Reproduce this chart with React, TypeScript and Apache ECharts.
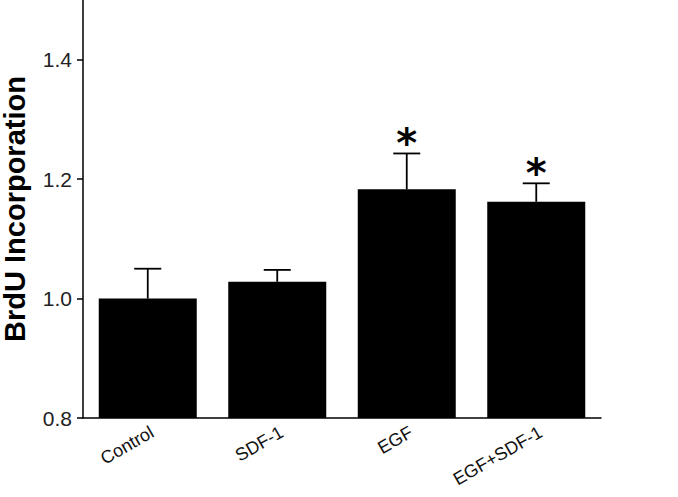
import React, { useEffect, useRef } from "react";
import * as echarts from "echarts";

const categories = ["Control", "SDF-1", "EGF", "EGF+SDF-1"];
const means = [1.0, 1.028, 1.183, 1.162];
const errors = [0.05, 0.02, 0.06, 0.031];
const significant = [false, false, true, true];
const yTicks = [0.8, 1.0, 1.2, 1.4];

export default function App() {
  const ref = useRef<HTMLDivElement>(null);
  useEffect(() => {
    document.body.style.margin = "0";
    const chart = echarts.init(ref.current!, null, { renderer: "svg" });
    const font = "Liberation Sans, Arial, sans-serif";
    chart.setOption({
      animation: false,
      backgroundColor: "#ffffff",
      grid: { left: 83, right: 77, top: 0, bottom: 79, containLabel: false, outerBoundsMode: "none" },
      xAxis: {
        type: "category",
        data: categories,
        axisLine: { lineStyle: { color: "#000", width: 1.5 } },
        axisTick: { alignWithLabel: true, length: 5, lineStyle: { color: "#000", width: 1.5 } },
        axisLabel: {
          rotate: 30,
          fontSize: 18,
          color: "#111",
          fontFamily: font,
          margin: 5,
          verticalAlign: "top",
        },
      },
      yAxis: {
        type: "value",
        min: 0.8,
        max: 1.5,
        interval: 0.1,
        splitLine: { show: false },
        axisLine: { show: true, lineStyle: { color: "#000", width: 1.5 } },
        axisTick: { show: true, length: 6, customValues: yTicks, lineStyle: { color: "#000", width: 1.5 } },
        axisLabel: {
          customValues: yTicks,
          fontSize: 21,
          color: "#222",
          fontFamily: font,
          margin: 11,
          formatter: (v: number) => v.toFixed(1),
        },
        name: "BrdU Incorporation",
        nameLocation: "middle",
        nameGap: 54,
        nameTextStyle: { fontSize: 29, fontWeight: "bold", color: "#000", fontFamily: font },
      },
      series: [
        {
          type: "bar",
          data: means,
          barWidth: 98,
          itemStyle: { color: "#000" },
          z: 2,
        },
        {
          type: "custom",
          z: 3,
          data: means.map((m, i) => [i, m, m + errors[i], significant[i] ? 1 : 0]),
          renderItem: (params: any, api: any) => {
            const x = api.value(0);
            const base = api.coord([x, api.value(1)]);
            const top = api.coord([x, api.value(2)]);
            const half = 13.5;
            const style = { stroke: "#000", lineWidth: 1.8 };
            const children: any[] = [
              { type: "line", shape: { x1: base[0], y1: base[1], x2: top[0], y2: top[1] }, style },
              { type: "line", shape: { x1: top[0] - half, y1: top[1], x2: top[0] + half, y2: top[1] }, style },
            ];
            if (api.value(3) === 1) {
              children.push({
                type: "text",
                x: top[0],
                y: top[1] + 10,
                style: {
                  text: "*",
                  fontSize: 40,
                  fontFamily: "DejaVu Sans, sans-serif",
                  fontWeight: "bold",
                  fill: "#000",
                  align: "center",
                  verticalAlign: "bottom",
                },
              });
            }
            return { type: "group", children };
          },
        },
      ],
    });
    return () => chart.dispose();
  }, []);
  return <div ref={ref} style={{ width: 678, height: 497 }} />;
}
